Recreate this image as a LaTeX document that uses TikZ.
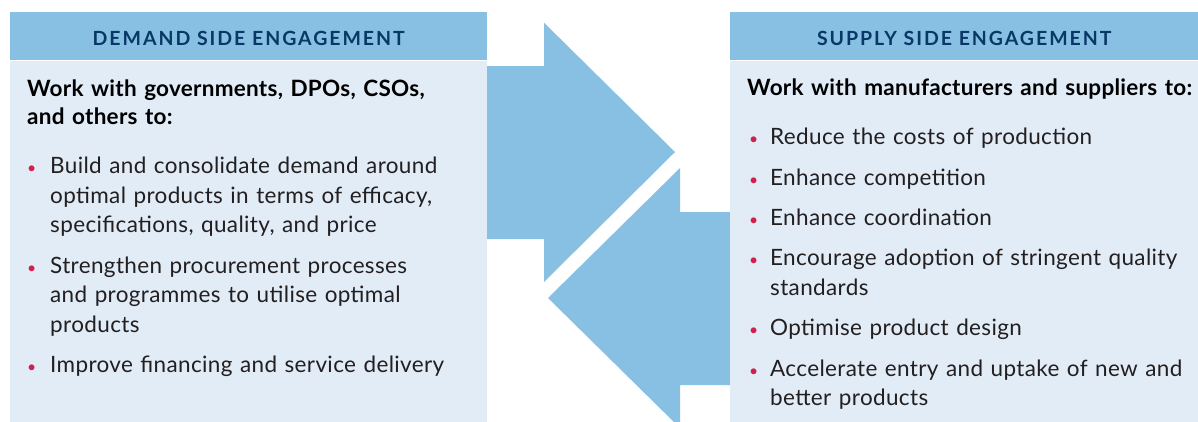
\documentclass[tikz,border=0pt]{standalone}
\usepackage{fontspec}
\setmainfont{Lato}
\usetikzlibrary{positioning}
\definecolor{headblue}{HTML}{88C0E4}
\definecolor{paleblue}{HTML}{E1ECF7}
\definecolor{navy}{HTML}{0A3866}
\definecolor{dotred}{HTML}{D31F4B}
\definecolor{inkgray}{HTML}{231F20}
\newcommand{\itm}[2]{\hangindent=#1\hangafter=1\noindent\hbox to #1{\textcolor{dotred}{\scalebox{0.7}{\textbullet}}\hss}\strut #2\strut\par}
\tikzstyle{header} = [rectangle, fill=headblue, anchor=north west, minimum height=48pt, inner sep=0pt, text height=18pt, text depth=0pt, text=navy, font=\fontsize{19.5}{22}\selectfont\bfseries\addfontfeatures{LetterSpace=10}]
\tikzstyle{panel} = [rectangle, fill=paleblue, anchor=north, inner sep=0pt]
\tikzstyle{intro} = [anchor=north west, inner sep=0pt, text width=470pt, text=black, font=\fontsize{22.5}{28}\selectfont\bfseries\addfontfeatures{LetterSpace=1.2}]
\tikzstyle{item} = [anchor=north west, inner sep=0pt, text width=450pt, text=inkgray, font=\fontsize{22.5}{29.5}\selectfont\addfontfeatures{LetterSpace=1.6}]
\tikzstyle{arrowshape} = [fill=headblue]

\begin{document}
\begin{tikzpicture}[x=1pt, y=-1pt, node distance=10.5pt]
  \useasboundingbox (0,0) rectangle (1198,421);
  \clip (0,0) rectangle (1198,421);

  % the two arrows
  \fill [arrowshape] (487,66) -- (544,66) -- (544,22.7) -- (675,152) -- (544,282) -- (544,239) -- (487,239) -- cycle;
  \fill [arrowshape] (730,212) -- (680,212) -- (680,168) -- (548,298) -- (680,428) -- (680,385) -- (730,385) -- cycle;

  % demand side
  \node (dhead) [header, minimum width=477pt] at (10,12) {DEMAND SIDE ENGAGEMENT};
  \node (dbody) [panel, minimum width=477pt, minimum height=370pt, below=0pt of dhead] {};
  \node (dintro) [intro] at (27,76.4) {\strut Work with governments, DPOs, CSOs,\newline and others to:\strut};
  \node (d1) [item, below=20pt of dintro.south west, anchor=north west] {\itm{23pt}{Build and consolidate demand around\newline optimal products in terms of efficacy,\newline specifications, quality, and price}};
  \node (d2) [item, below=of d1.south west, anchor=north west] {\itm{23pt}{Strengthen procurement processes\newline and programmes to utilise optimal\newline products}};
  \node (d3) [item, below=of d2.south west, anchor=north west] {\itm{23pt}{Improve financing and service delivery}};

  % supply side
  \node (shead) [header, minimum width=468pt] at (730,12) {SUPPLY SIDE ENGAGEMENT};
  \node (sbody) [panel, minimum width=468pt, minimum height=370pt, below=0pt of shead] {};
  \node (sintro) [intro] at (747,75.4) {\strut Work with manufacturers and suppliers to:\strut};
  \node (s1) [item, below=20pt of sintro.south west, anchor=north west, xshift=2pt] {\itm{21pt}{Reduce the costs of production}};
  \node (s2) [item, below=of s1.south west, anchor=north west] {\itm{21pt}{Enhance competition}};
  \node (s3) [item, below=of s2.south west, anchor=north west] {\itm{21pt}{Enhance coordination}};
  \node (s4) [item, below=of s3.south west, anchor=north west] {\itm{21pt}{Encourage adoption of stringent quality\newline standards}};
  \node (s5) [item, below=of s4.south west, anchor=north west] {\itm{21pt}{Optimise product design}};
  \node (s6) [item, below=of s5.south west, anchor=north west] {\itm{21pt}{Accelerate entry and uptake of new and\newline better products}};
\end{tikzpicture}
\end{document}
